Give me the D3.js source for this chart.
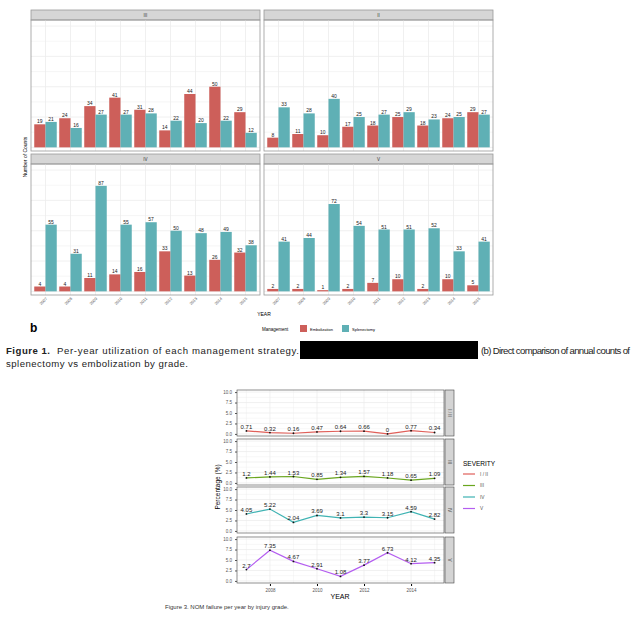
<!DOCTYPE html>
<html><head><meta charset="utf-8">
<script src="https://cdn.jsdelivr.net/npm/d3@7"></script>
<style>body{margin:0;background:#fff}svg{display:block}</style>
</head><body><svg id="c" width="640" height="622"></svg>
<script>
// figure 1 data
var years = [2007, 2008, 2009, 2010, 2011, 2012, 2013, 2014, 2015];
var grades = ["III", "II", "IV", "V"];
var embolization = {
  "III": [19, 24, 34, 41, 31, 14, 44, 50, 29],
  "II":  [8, 11, 10, 17, 18, 25, 18, 24, 29],
  "IV":  [4, 4, 11, 14, 16, 33, 13, 26, 32],
  "V":   [2, 2, 1, 2, 7, 10, 2, 10, 5]
};
var splenectomy = {
  "III": [21, 16, 27, 27, 28, 22, 20, 22, 12],
  "II":  [33, 28, 40, 25, 27, 29, 23, 25, 27],
  "IV":  [55, 31, 87, 55, 57, 50, 48, 49, 38],
  "V":   [41, 44, 72, 54, 51, 51, 52, 33, 41]
};
// figure 3 data
var severities = ["I / II", "III", "IV", "V"];
var sevColors = ["#e0605a", "#6aa61e", "#3fb3b3", "#b45ef0"];
var failure = [
  [0.71, 0.32, 0.16, 0.47, 0.64, 0.66, 0, 0.77, 0.34],
  [1.2, 1.44, 1.53, 0.85, 1.34, 1.57, 1.18, 0.65, 1.09],
  [4.05, 5.22, 2.04, 3.69, 3.1, 3.3, 3.15, 4.59, 2.82],
  [2.7, 7.35, 4.67, 2.91, 1.08, 3.77, 6.73, 4.12, 4.35]
];
var pctTicks = [0, 2.5, 5, 7.5, 10];

var red = "#cd5f5a", teal = "#5fb0b5";
var svg = d3.select("#c");
var font = "Liberation Sans, Arial, sans-serif";

// ---- figure 1 facets
var panels = [
  {g: "III", x: 31, y: 20},
  {g: "II", x: 264, y: 20},
  {g: "IV", x: 31, y: 164},
  {g: "V", x: 264, y: 164}
];
var pw = 229, ph = 131;
panels.forEach(function(p) {
  var g = svg.append("g").attr("transform", "translate(" + p.x + "," + p.y + ")");
  g.append("rect").attr("x", 0).attr("y", -10).attr("width", pw).attr("height", 10)
    .attr("fill", "#d6d6d6").attr("stroke", "#999").attr("stroke-width", 0.8);
  g.append("text").attr("x", pw / 2).attr("y", -3).attr("text-anchor", "middle")
    .attr("font-family", font).attr("font-size", 4.5).attr("fill", "#333").text(p.g);
  var x = d3.scaleBand().domain(years).range([2, pw - 2]).paddingInner(0.1).paddingOuter(0.05);
  var xs = d3.scaleBand().domain(["e", "s"]).range([0, x.bandwidth()]);
  var y = d3.scaleLinear().domain([-3, 105]).range([ph, 0]);
  d3.range(0, 105, 12.5).forEach(function(v) {
    g.append("line").attr("x1", 0).attr("x2", pw).attr("y1", y(v)).attr("y2", y(v))
      .attr("stroke", "#ececec").attr("stroke-width", v % 25 === 0 ? 0.8 : 0.5);
  });
  years.forEach(function(yr) {
    var cx = x(yr) + x.bandwidth() / 2;
    g.append("line").attr("x1", cx).attr("x2", cx).attr("y1", 0).attr("y2", ph)
      .attr("stroke", "#ececec").attr("stroke-width", 0.8);
  });
  var rows = years.map(function(yr, i) {
    return [{k: "e", yr: yr, v: embolization[p.g][i]}, {k: "s", yr: yr, v: splenectomy[p.g][i]}];
  });
  rows = [].concat.apply([], rows);
  g.selectAll(".bar").data(rows).enter().append("rect")
    .attr("x", function(d) { return x(d.yr) + xs(d.k); })
    .attr("width", xs.bandwidth())
    .attr("y", function(d) { return y(d.v); })
    .attr("height", function(d) { return y(0) - y(d.v); })
    .attr("fill", function(d) { return d.k === "e" ? red : teal; });
  g.selectAll(".lab").data(rows).enter().append("text")
    .attr("x", function(d) { return x(d.yr) + xs(d.k) + xs.bandwidth() / 2; })
    .attr("y", function(d) { return y(d.v) - 1; })
    .attr("text-anchor", "middle").attr("font-family", font).attr("font-size", 5)
    .attr("fill", "#222").text(function(d) { return d.v; });
  g.append("rect").attr("width", pw).attr("height", ph).attr("fill", "none")
    .attr("stroke", "#999").attr("stroke-width", 0.8);
  if (p.y > 100) {
    years.forEach(function(yr) {
      var cx = x(yr) + x.bandwidth() / 2;
      g.append("text").attr("transform", "translate(" + (cx + 2) + "," + (ph + 4) + ") rotate(-45)")
        .attr("text-anchor", "end").attr("font-family", font).attr("font-size", 4)
        .attr("fill", "#555").text(yr);
    });
  }
});
svg.append("text").attr("x", 264).attr("y", 316).attr("text-anchor", "middle")
  .attr("font-family", font).attr("font-size", 5).text("YEAR");
svg.append("text").attr("transform", "translate(27,157) rotate(-90)").attr("text-anchor", "middle")
  .attr("font-family", font).attr("font-size", 5).text("Number of Counts");
svg.append("text").attr("x", 30).attr("y", 332).attr("font-family", font)
  .attr("font-size", 12).attr("font-weight", "bold").text("b");
var lg = svg.append("g").attr("transform", "translate(262,329)");
lg.append("text").attr("x", 0).attr("y", 1.5).attr("font-family", font).attr("font-size", 4.5).text("Management");
[["Embolization", red, 38], ["Splenectomy", teal, 80]].forEach(function(d) {
  lg.append("rect").attr("x", d[2]).attr("y", -4).attr("width", 7).attr("height", 7).attr("fill", d[1]);
  lg.append("text").attr("x", d[2] + 10).attr("y", 1.5).attr("font-family", font)
    .attr("font-size", 4).text(d[0]);
});
svg.append("text").attr("x", 6).attr("y", 354).attr("font-family", font).attr("font-size", 9.6)
  .attr("font-weight", "bold").attr("fill", "#222").attr("textLength", 44).text("Figure 1.");
svg.append("text").attr("x", 57).attr("y", 354).attr("font-family", font).attr("font-size", 9.6)
  .attr("fill", "#222").attr("textLength", 242).text("Per-year utilization of each management strategy.");
svg.append("rect").attr("x", 300).attr("y", 341).attr("width", 178).attr("height", 18).attr("fill", "#000");
svg.append("text").attr("x", 481).attr("y", 354).attr("font-family", font).attr("font-size", 9.6)
  .attr("fill", "#222").attr("textLength", 149).text("(b) Direct comparison of annual counts of");
svg.append("text").attr("x", 6).attr("y", 367).attr("font-family", font).attr("font-size", 9.6)
  .attr("fill", "#222").attr("textLength", 182).text("splenectomy vs embolization by grade.");

// ---- figure 3
var fx = d3.scaleLinear().domain([2006.6, 2015.4]).range([237, 444]);
var tops = [390, 439, 487, 537], fh = 46;
failure.forEach(function(vals, k) {
  var g = svg.append("g").attr("transform", "translate(0," + tops[k] + ")");
  var y = d3.scaleLinear().domain([-0.5, 10.5]).range([fh, 0]);
  d3.range(0, 10.1, 1.25).forEach(function(v) {
    g.append("line").attr("x1", 237).attr("x2", 444).attr("y1", y(v)).attr("y2", y(v))
      .attr("stroke", "#ebebeb").attr("stroke-width", v % 2.5 === 0 ? 0.7 : 0.4);
  });
  d3.range(2007, 2015.1, 1).forEach(function(v) {
    g.append("line").attr("x1", fx(v)).attr("x2", fx(v)).attr("y1", 0).attr("y2", fh)
      .attr("stroke", "#ebebeb").attr("stroke-width", v % 2 === 0 ? 0.7 : 0.4);
  });
  g.append("rect").attr("x", 237).attr("width", 207).attr("height", fh).attr("fill", "none")
    .attr("stroke", "#444").attr("stroke-width", 0.6);
  g.append("g").attr("transform", "translate(237,0)")
    .call(d3.axisLeft(y).tickValues(pctTicks).tickSize(2).tickFormat(d3.format(".1f")))
    .call(function(a) {
      a.select(".domain").remove();
      a.selectAll("text").attr("font-size", 4.5).attr("fill", "#555").attr("font-family", font);
      a.selectAll("line").attr("stroke", "#555");
    });
  g.append("path").datum(vals)
    .attr("d", d3.line().x(function(d, i) { return fx(years[i]); }).y(function(d) { return y(d); }))
    .attr("fill", "none").attr("stroke", sevColors[k]).attr("stroke-width", 1.2);
  g.selectAll(".pt").data(vals).enter().append("circle")
    .attr("cx", function(d, i) { return fx(years[i]); }).attr("cy", function(d) { return y(d); })
    .attr("r", 0.9).attr("fill", "#111");
  g.selectAll(".vl").data(vals).enter().append("text")
    .attr("x", function(d, i) { return fx(years[i]); }).attr("y", function(d) { return y(d) - 2; })
    .attr("text-anchor", "middle").attr("font-family", font).attr("font-size", 6)
    .attr("fill", "#222").text(function(d) { return d; });
  g.append("rect").attr("x", 445).attr("width", 9).attr("height", fh).attr("fill", "#d4d4d4")
    .attr("stroke", "#444").attr("stroke-width", 0.6);
  g.append("text").attr("transform", "translate(448," + fh / 2 + ") rotate(90)")
    .attr("text-anchor", "middle").attr("font-family", font).attr("font-size", 4.5)
    .attr("fill", "#333").text(severities[k]);
});
svg.append("g").attr("transform", "translate(0,584)")
  .call(d3.axisBottom(fx).tickValues([2008, 2010, 2012, 2014]).tickSize(2).tickFormat(d3.format("d")))
  .call(function(a) {
    a.select(".domain").remove();
    a.selectAll("text").attr("font-size", 4.5).attr("fill", "#555").attr("font-family", font);
  });
svg.append("text").attr("x", 340).attr("y", 599).attr("text-anchor", "middle")
  .attr("font-family", font).attr("font-size", 7).text("YEAR");
svg.append("text").attr("transform", "translate(220,487) rotate(-90)").attr("text-anchor", "middle")
  .attr("font-family", font).attr("font-size", 6.5).text("Percentage (%)");
var sl = svg.append("g").attr("transform", "translate(463,466)");
sl.append("text").attr("font-family", font).attr("font-size", 6.5).text("SEVERITY");
severities.forEach(function(s, k) {
  var yy = 8 + k * 11.5;
  sl.append("line").attr("x1", 0).attr("x2", 12).attr("y1", yy).attr("y2", yy)
    .attr("stroke", sevColors[k]).attr("stroke-width", 1.2);
  sl.append("text").attr("x", 17).attr("y", yy + 1.8).attr("font-family", font)
    .attr("font-size", 4.8).attr("fill", "#555").text(s);
});
svg.append("text").attr("x", 165).attr("y", 609).attr("font-family", font).attr("font-size", 6)
  .attr("fill", "#333").text("Figure 3.   NOM failure per year by injury grade.");
</script></body></html>
